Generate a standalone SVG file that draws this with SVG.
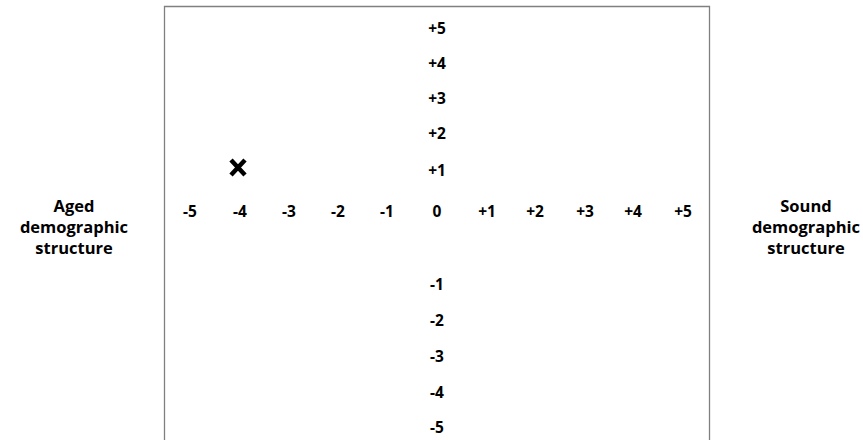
<svg xmlns="http://www.w3.org/2000/svg" width="863" height="440" viewBox="0 0 863 440">
<style>
.n{font-family:"Open Sans","Liberation Sans",sans-serif;font-weight:bold;font-size:15.5px;fill:#000;text-anchor:middle}
.l{font-family:"Open Sans","Liberation Sans",sans-serif;font-weight:bold;font-size:16.5px;fill:#000;text-anchor:middle}
.frame{fill:none;stroke:#808080;stroke-width:1.3}
</style>
<rect width="863" height="440" fill="#fff"/>
<g id="frame"><path class="frame" d="M164.5,441 V6.5 H709.5 V441"/></g>
<g id="x-axis">
<text class="n" x="190" y="217">-5</text>
<text class="n" x="240" y="217">-4</text>
<text class="n" x="289" y="217">-3</text>
<text class="n" x="338" y="217">-2</text>
<text class="n" x="387" y="217">-1</text>
<text class="n" x="437" y="217">0</text>
<text class="n" x="487" y="217">+1</text>
<text class="n" x="535" y="217">+2</text>
<text class="n" x="585" y="217">+3</text>
<text class="n" x="633" y="217">+4</text>
<text class="n" x="683" y="217">+5</text>
</g>
<g id="y-axis">
<text class="n" x="437" y="34">+5</text>
<text class="n" x="437" y="69">+4</text>
<text class="n" x="437" y="104">+3</text>
<text class="n" x="437" y="139">+2</text>
<text class="n" x="437" y="176">+1</text>
<text class="n" x="437" y="290">-1</text>
<text class="n" x="437" y="326">-2</text>
<text class="n" x="437" y="362">-3</text>
<text class="n" x="437" y="398">-4</text>
<text class="n" x="437" y="433">-5</text>
</g>
<g id="left-label">
<text class="l" x="74" y="212">Aged</text>
<text class="l" x="74" y="233">demographic</text>
<text class="l" x="74" y="254">structure</text>
</g>
<g id="right-label">
<text class="l" x="806" y="212">Sound</text>
<text class="l" x="806" y="233">demographic</text>
<text class="l" x="806" y="254">structure</text>
</g>
<g id="marker">
<path d="M231,160 L245,175 M245,160 L231,175" stroke="#000" stroke-width="4.5" fill="none"/>
</g>
<g id="connectors"></g>
</svg>
